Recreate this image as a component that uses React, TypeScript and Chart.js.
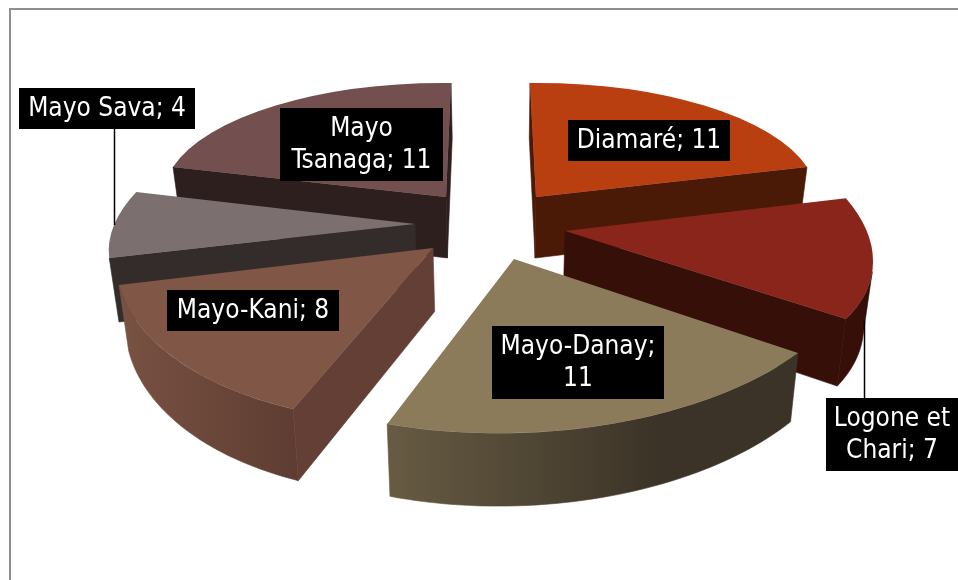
import React, { useEffect, useRef } from "react";
import { Chart, registerables } from "chart.js";

Chart.register(...registerables);

const categories = ["Diamaré", "Logone et Chari", "Mayo-Danay", "Mayo-Kani", "Mayo Sava", "Mayo Tsanaga"];
const counts = [11, 7, 11, 8, 4, 11];
const topColors = ["#B93F11", "#89251B", "#8C7B5B", "#805646", "#7C6F70", "#73504F"];
const radialWallColors = ["#4B1A07", "#360F09", "#3C3426", "#643F35", "#332C2B", "#2E1F1F"];
const outerWallStops = [
  ["#4B1A07", "#4B1A07"],
  ["#360F09", "#360F09"],
  ["#675B43", "#3B3327"],
  ["#785243", "#5E3C31"],
  ["#332C2B", "#332C2B"],
  ["#2E1F1F", "#2E1F1F"],
];
// first-line word counts for the wrapped data labels
const firstLineWords = [0, 2, 1, 0, 0, 1];

// Painter's order of the exploded wedges, back to front.
const paintOrder = [5, 0, 4, 1, 3, 2];

// Per-wedge projection of the flat pie on to the tilted plane:
// [apex x, apex y, xx, yx, xy, yy] in pixels per unit radius.
const wedgeProjection = [
  [536, 197, 280.6, -2.7, 6, 114],
  [565, 231, 303, 3.2, 55.5, 150.3],
  [514, 259, 347.7, -6, -3.8, 174.2],
  [433, 248, 316, 4.7, -29.7, 174],
  [415, 224, 301, -1, -56.5, 138],
  [446, 197, 282.4, 2.9, -5, 114],
];

// Extrusion: the underside is the top shrunk about a vanishing x and pushed down.
const vanishX = 500;
const shrinkX = 0.975;
const baseDepth = 61;
const depthRefY = 197;
const depthGrowth = 0.05;

// Label boxes [left, top, right, bottom]
const labelBoxes = [
  [568, 120, 730, 161],
  [826, 398, 960, 471],
  [492, 326, 664, 399],
  [167, 290, 339, 331],
  [19, 88, 195, 129],
  [280, 108, 443, 181],
];
// Leader lines [x, y0, y1] by category index
const leaders: Record<number, number[]> = {
  1: [864.5, 321, 398],
  4: [114.5, 129, 225],
};
const labelFont = "26px 'DejaVu Sans Condensed', 'Noto Sans', sans-serif";

type Pt = [number, number];

function under(p: Pt): Pt {
  return [vanishX + (p[0] - vanishX) * shrinkX, p[1] + baseDepth + (p[1] - depthRefY) * depthGrowth];
}

function area(pts: Pt[]) {
  let s = 0;
  pts.forEach((p, i) => {
    const q = pts[(i + 1) % pts.length];
    s += p[0] * q[1] - q[0] * p[1];
  });
  return s;
}

function fillPoly(ctx: CanvasRenderingContext2D, pts: Pt[], style: string | CanvasGradient) {
  ctx.beginPath();
  pts.forEach((p, i) => (i ? ctx.lineTo(p[0], p[1]) : ctx.moveTo(p[0], p[1])));
  ctx.closePath();
  ctx.fillStyle = style;
  ctx.strokeStyle = style;
  ctx.lineWidth = 0.6;
  ctx.fill();
  ctx.stroke();
}

const pie3d = {
  id: "pie3d",
  beforeDatasetsDraw(chart: any) {
    const ctx: CanvasRenderingContext2D = chart.ctx;
    const arcs = chart.getDatasetMeta(0).data;
    for (const i of paintOrder) {
      const arc = arcs[i];
      const [ax, ay, xx, yx, xy, yy] = wedgeProjection[i];
      const R = arc.outerRadius;
      const project = (angle: number): Pt => {
        const u = Math.cos(angle);
        const v = Math.sin(angle);
        return [ax + xx * u + xy * v, ay + yx * u + yy * v];
      };
      const apex: Pt = [ax, ay];
      const apexU = under(apex);
      const steps = 48;
      const rim: Pt[] = [];
      for (let s = 0; s <= steps; s++) {
        rim.push(project(arc.startAngle + ((arc.endAngle - arc.startAngle) * s) / steps));
      }
      const rimU = rim.map(under);

      // outer curved wall, one polygon per run of segments facing the viewer
      const xs = rim.map((p) => p[0]).concat(rimU.map((p) => p[0]));
      const [stopA, stopB] = outerWallStops[i];
      const grad = ctx.createLinearGradient(Math.min(...xs), 0, i === 2 ? 660 : Math.max(...xs), 0);
      grad.addColorStop(0, stopA);
      grad.addColorStop(1, stopB);
      let run: number[] = [];
      const flush = () => {
        if (run.length) {
          const idx = [...run, run[run.length - 1] + 1];
          fillPoly(ctx, [...idx.map((k) => rim[k]), ...idx.slice().reverse().map((k) => rimU[k])], grad);
        }
        run = [];
      };
      for (let s = 0; s < steps; s++) {
        if (area([rim[s], rim[s + 1], rimU[s + 1], rimU[s]]) < 0) run.push(s);
        else flush();
      }
      flush();

      // radial walls
      const startQ: Pt[] = [apex, rim[0], rimU[0], apexU];
      const endQ: Pt[] = [apex, rim[steps], rimU[steps], apexU];
      if (area(startQ) < 0) fillPoly(ctx, startQ, radialWallColors[i]);
      if (area(endQ) > 0) fillPoly(ctx, endQ, radialWallColors[i]);

      // top face: the library's own arc element under the projection
      ctx.save();
      const a = xx / R, b = yx / R, c = xy / R, d = yy / R;
      ctx.transform(a, b, c, d, ax - a * arc.x - c * arc.y, ay - b * arc.x - d * arc.y);
      arc.draw(ctx);
      ctx.restore();
    }
    return false;
  },
  afterDraw(chart: any) {
    const ctx: CanvasRenderingContext2D = chart.ctx;
    ctx.save();
    ctx.font = labelFont;
    ctx.textAlign = "center";
    ctx.textBaseline = "middle";
    categories.forEach((name, i) => {
      const leader = leaders[i];
      if (leader) {
        ctx.strokeStyle = "#000";
        ctx.lineWidth = 1.5;
        ctx.beginPath();
        ctx.moveTo(leader[0], leader[1]);
        ctx.lineTo(leader[0], leader[2]);
        ctx.stroke();
      }
      const [l, t, r, bt] = labelBoxes[i];
      ctx.fillStyle = "#000";
      ctx.fillRect(l, t, r - l, bt - t);
      ctx.fillStyle = "#fff";
      const words = `${name}; ${counts[i]}`.split(" ");
      const n = firstLineWords[i];
      const lines = n ? [words.slice(0, n).join(" "), words.slice(n).join(" ")] : [words.join(" ")];
      const cx = (l + Math.min(r, 958)) / 2;
      const cy = (t + bt) / 2;
      lines.forEach((line, k) => {
        ctx.fillText(line, cx, cy + (k - (lines.length - 1) / 2) * 32 + 1);
      });
    });
    ctx.restore();
  },
};

export default function App() {
  const ref = useRef<HTMLCanvasElement>(null);
  useEffect(() => {
    const chart = new Chart(ref.current!, {
      type: "pie",
      data: {
        labels: categories,
        datasets: [{ data: counts, backgroundColor: topColors, borderWidth: 0 }],
      },
      options: {
        animation: false,
        responsive: false,
        plugins: { legend: { display: false }, tooltip: { enabled: false } },
      },
      plugins: [pie3d],
    } as any);
    return () => chart.destroy();
  }, []);
  return (
    <div style={{ position: "fixed", left: 0, top: 0, width: 958, height: 580, overflow: "hidden", background: "#fff" }}>
      <div
        style={{
          position: "absolute",
          left: 9,
          top: 8,
          width: 1200,
          height: 1200,
          borderLeft: "2px solid #8f8f8f",
          borderTop: "2px solid #8f8f8f",
        }}
      />
      <canvas ref={ref} width={958} height={580} style={{ position: "absolute", left: 0, top: 0, display: "block" }} />
    </div>
  );
}
